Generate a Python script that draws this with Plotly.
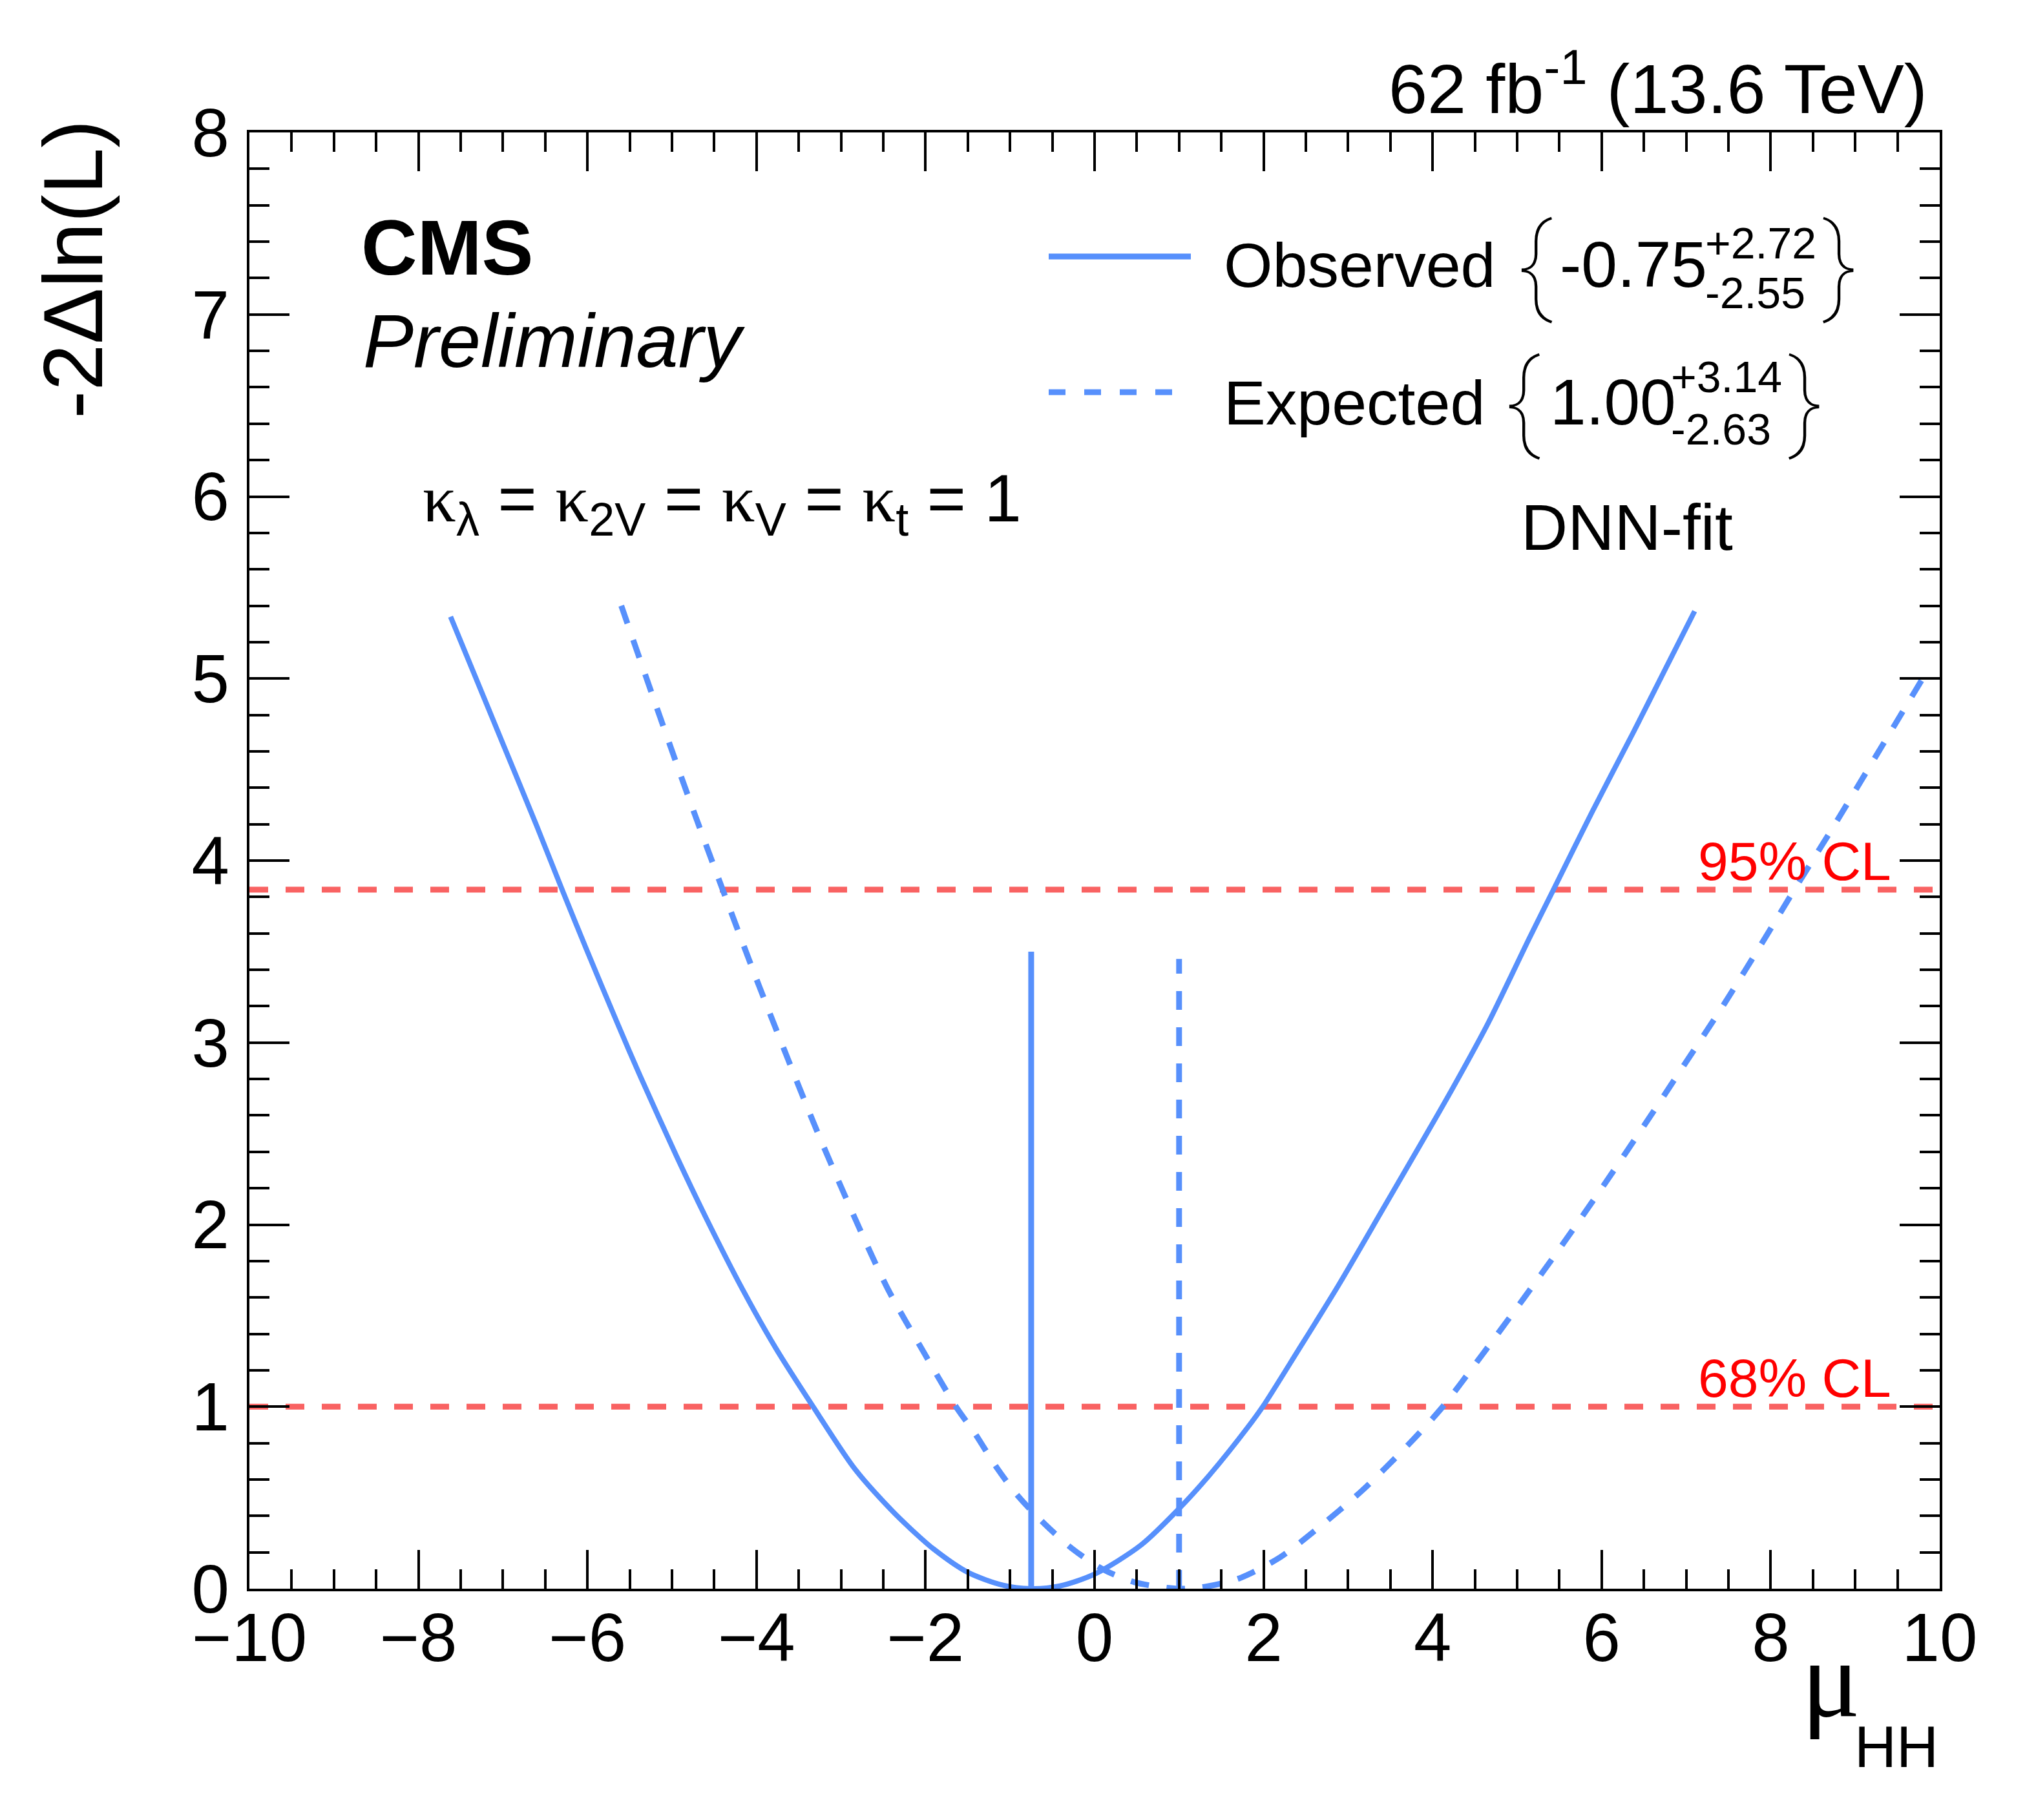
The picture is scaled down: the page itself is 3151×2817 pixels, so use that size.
import plotly.graph_objects as go

# Likelihood scan values
obs_mu = [-7.62, -6.99, -6.60, -6.30, -6.01, -5.64, -5.38, -4.94, -4.60, -4.16,
          -3.77, -3.33, -2.84, -2.40, -2.19, -1.91, -1.50, -1.09, -0.75, -0.41,
          0.0, 0.55, 1.0, 1.37, 1.81, 1.99, 2.41, 2.89, 3.43, 3.98,
          4.25, 4.66, 5.14, 5.43, 5.89, 6.37, 6.74, 7.10]
obs_nll = [5.34, 4.63, 4.19, 3.84, 3.51, 3.10, 2.82, 2.37, 2.04, 1.64,
           1.32, 1.00, 0.66, 0.43, 0.335, 0.22, 0.09, 0.02, 0.0, 0.015,
           0.08, 0.24, 0.44, 0.63, 0.885, 1.0, 1.31, 1.67, 2.10, 2.54,
           2.76, 3.11, 3.57, 3.84, 4.27, 4.70, 5.04, 5.37]

exp_mu = [-5.60, -5.18, -4.79, -4.40, -4.01, -3.62, -3.28, -2.84, -2.45, -2.01,
          -1.64, -1.42, -1.15, -0.90, -0.585, -0.27, 0.085, 0.47, 1.0, 1.32,
          1.73, 2.20, 2.61, 3.16, 3.71, 4.12, 4.53, 5.07, 5.55, 6.03,
          6.51, 6.98, 7.46, 7.94, 8.28, 8.76, 9.24, 9.85]
exp_nll = [5.40, 4.84, 4.33, 3.84, 3.36, 2.90, 2.51, 2.04, 1.65, 1.29,
           1.00, 0.856, 0.66, 0.506, 0.353, 0.222, 0.11, 0.036, 0.0, 0.012,
           0.06, 0.174, 0.32, 0.537, 0.79, 1.0, 1.25, 1.59, 1.90, 2.22,
           2.55, 2.88, 3.22, 3.58, 3.84, 4.20, 4.57, 5.04]

# best fit markers
obs_best = -0.75
exp_best = 1.00
obs_best_top = 3.50
exp_best_top = 3.46

# confidence level thresholds
cl_values = [1.0, 3.84]
cl_labels = ["68% CL", "95% CL"]
x_range = [-10, 10]

BLUE = "#5790fc"
RED = "#f96262"
SANS = "Liberation Sans"
SERIF = "Liberation Serif"

W, H = 3151, 2817
L, R, T, B = 378, 2994, 197, 2451


def px(x):
    return (x - L) / (R - L)


def py(y):
    return (B - y) / (B - T)


fig = go.Figure()

for val in cl_values:
    fig.add_trace(go.Scatter(x=x_range, y=[val, val], mode="lines",
                             line=dict(color=RED, width=9, dash="29px,27px"),
                             showlegend=False, hoverinfo="skip"))

fig.add_trace(go.Scatter(x=exp_mu, y=exp_nll, mode="lines",
                         line=dict(color=BLUE, width=9, dash="29px,27px",
                                   shape="spline", smoothing=0.8),
                         showlegend=False))
fig.add_trace(go.Scatter(x=obs_mu, y=obs_nll, mode="lines",
                         line=dict(color=BLUE, width=8, shape="spline", smoothing=0.8),
                         showlegend=False))
fig.add_trace(go.Scatter(x=[exp_best, exp_best], y=[0, exp_best_top], mode="lines",
                         line=dict(color=BLUE, width=9, dash="29px,27px"),
                         showlegend=False))
fig.add_trace(go.Scatter(x=[obs_best, obs_best], y=[0, obs_best_top], mode="lines",
                         line=dict(color=BLUE, width=9), showlegend=False))


def put(text, x, ymid, size, anchor="left", family=SANS, color="black", angle=0,
        weight="normal"):
    fig.add_annotation(text=text, x=px(x), y=py(ymid), xref="paper", yref="paper",
                       xanchor=anchor, yanchor="middle", showarrow=False,
                       textangle=angle, borderpad=0,
                       font=dict(family=family, size=size, color=color, weight=weight))


def label(text, x, base, size, anchor="left", family=SANS, color="black"):
    put(text, x, base - 0.35 * size, size, anchor, family, color)


# header / labels
label("62 fb<sup>-1</sup> (13.6 TeV)", 2976, 160, 108, anchor="right")
label("<b>CMS</b>", 550, 417, 120)
label("<i>Preliminary</i>", 553, 560, 117)
kap = "<span style='font-family:Liberation Serif'>κ</span>"
label(f"{kap}<sub>λ</sub> = {kap}<sub>2V</sub> = {kap}<sub>V</sub> = {kap}<sub>t</sub> = 1",
      645, 807, 103)
label("DNN-fit", 2345, 843, 100)

# legend
fig.add_shape(type="line", xref="paper", yref="paper", x0=px(1615), x1=px(1835),
              y0=py(389), y1=py(389), line=dict(color=BLUE, width=9))
fig.add_shape(type="line", xref="paper", yref="paper", x0=px(1615), x1=px(1807),
              y0=py(599), y1=py(599), line=dict(color=BLUE, width=9, dash="26px,29px"))
label("Observed", 1885, 436, 97)
put("{", 2368, 400, 165, anchor="center", family="Roboto", weight=100)
label("-0.75", 2405, 436, 100)
label("+2.72", 2630, 392, 68)
label("-2.55", 2630, 469, 68)
put("}", 2839, 400, 165, anchor="center", family="Roboto", weight=100)

label("Expected", 1885, 649, 97)
put("{", 2349, 611, 165, anchor="center", family="Roboto", weight=100)
label("1.00", 2390, 649, 100)
label("+3.14", 2577, 599, 68)
label("-2.63", 2577, 680, 68)
put("}", 2786, 611, 165, anchor="center", family="Roboto", weight=100)

# CL labels
for val, txt in zip(cl_values, cl_labels):
    base = B - val * (B - T) / 8 - 15
    label(txt, 2920, base, 84, anchor="right", color="#ff0000")

# axis titles
put("-2Δln(L)", 105, 409, 130, anchor="center", angle=-90)
label("μ", 2872, 2650, 170, anchor="right", family=SERIF)
label("HH", 2993, 2727, 90, anchor="right")

axis_common = dict(showline=True, linecolor="black", linewidth=4, mirror="allticks",
                   ticks="inside", tickwidth=4, tickcolor="black", showgrid=False,
                   zeroline=False, tickfont=dict(family=SANS, size=105, color="black"))

fig.update_layout(
    width=W, height=H,
    margin=dict(l=L, r=W - R, t=T, b=H - B, pad=0),
    plot_bgcolor="white", paper_bgcolor="white",
    showlegend=False,
    xaxis=dict(range=x_range, tickmode="linear", tick0=-10, dtick=2, ticklen=60,
               minor=dict(dtick=0.5, ticklen=30, tickwidth=4, ticks="inside",
                          tickcolor="black"),
               ticklabelstandoff=-18, **axis_common),
    yaxis=dict(range=[0, 8], tickmode="linear", tick0=0, dtick=1, ticklen=62,
               minor=dict(dtick=0.2, ticklen=31, tickwidth=4, ticks="inside",
                          tickcolor="black"),
               ticklabelstandoff=6, **axis_common),
)

fig.write_html("out.html")
